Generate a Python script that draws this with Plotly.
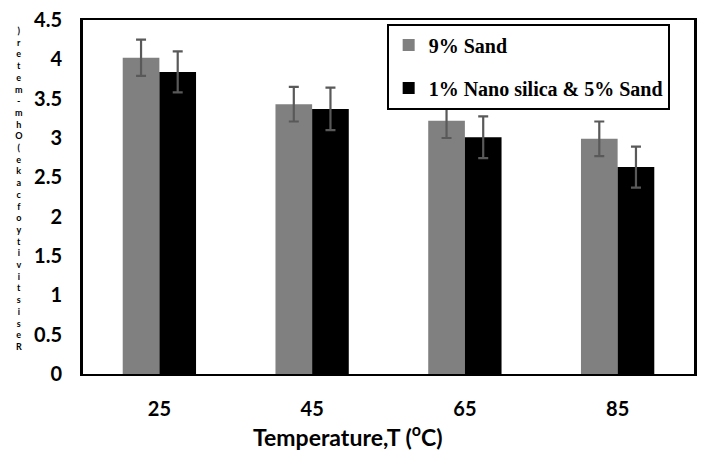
import plotly.graph_objects as go

categories = ["25", "45", "65", "85"]
sand9 = [4.02, 3.43, 3.22, 2.99]
sand9_err = [0.23, 0.22, 0.22, 0.22]
nano = [3.84, 3.37, 3.01, 2.63]
nano_err = [0.26, 0.27, 0.265, 0.26]
series_names = ["9% Sand", "1% Nano silica & 5% Sand"]
y_title = "Resistivity of cake (Ohm-meter)"
x_title = "Temperature,T (<sup>o</sup>C)"

err_style = dict(type="data", color="#595959", thickness=2.2, width=5)

fig = go.Figure()
fig.add_trace(go.Bar(x=categories, y=sand9, name=series_names[0], marker_color="#808080",
                     marker_line_width=0, legendgroup="a",
                     error_y=dict(array=sand9_err, **err_style)))
fig.add_trace(go.Bar(x=categories, y=nano, name=series_names[1], marker_color="#000000",
                     marker_line_width=0, legendgroup="b",
                     error_y=dict(array=nano_err, **err_style)))

tickfont = dict(family="Lato", size=20, color="black", weight="bold")

fig.update_layout(
    width=704, height=450,
    margin=dict(l=83, r=7, t=16, b=76),
    plot_bgcolor="white", paper_bgcolor="white",
    barmode="group", bargap=0.52, bargroupgap=0,
    showlegend=True,
    legend=dict(x=0.497, y=0.99, xanchor="left", yanchor="top",
                bordercolor="black", borderwidth=2, bgcolor="white",
                font=dict(family="Liberation Serif", size=20, color="black", weight="bold"),
                tracegroupgap=14, itemwidth=30),
    xaxis=dict(type="category", showline=True, linecolor="black", linewidth=2, mirror=True,
               ticks="", tickfont=tickfont, ticklabelstandoff=16),
    yaxis=dict(range=[0, 4.5], dtick=0.5, showgrid=False, zeroline=False,
               showline=True, linecolor="black", linewidth=3, mirror=True,
               ticks="", tickfont=tickfont, ticklabelstandoff=14),
)

# x-axis title (offset left of centre, as in the reference)
fig.add_annotation(text=x_title, xref="paper", yref="paper", x=0.433, y=-0.173,
                   xanchor="center", yanchor="middle", showarrow=False,
                   font=dict(family="Lato", size=23, color="black", weight="bold"))

# stacked (vertical) y-axis title, letters bottom-to-top as in the reference
chars = [c for c in y_title if c != " "]
fig.add_annotation(text="<br>".join(reversed(chars)), xref="paper", yref="paper",
                   x=-0.105, y=(374 - 186) / 358, xanchor="center", yanchor="middle",
                   showarrow=False, align="center",
                   font=dict(family="Lato", size=9, color="black", weight="bold"))

fig.write_html("out.html")
